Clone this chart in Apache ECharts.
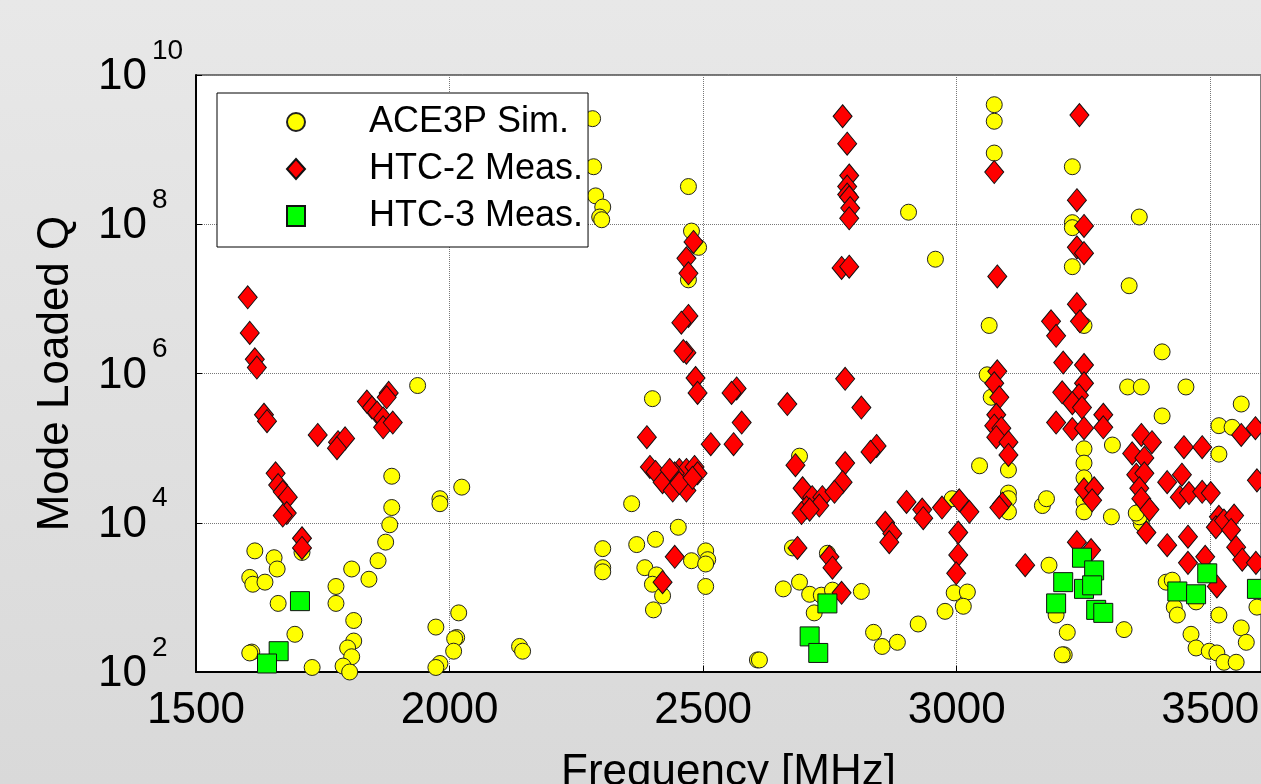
<!DOCTYPE html>
<html>
<head>
<meta charset="utf-8">
<title>Mode Loaded Q</title>
<script src="https://cdn.jsdelivr.net/npm/echarts@6/dist/echarts.min.js"></script>
<style>
  html, body { margin: 0; padding: 0; overflow: hidden; }
  body { width: 1261px; height: 784px; background: linear-gradient(#e8e8e8, #d9d9d9); }
  #chart { width: 1263px; height: 784px; }
</style>
</head>
<body>
<div id="chart"></div>
<script>
  var fontName = '"Liberation Sans", Arial, Helvetica, sans-serif'

  // [frequency MHz, loaded Q]
  var ace3pSim = [
    [2282, 2.6e9], [2284, 5.9e8], [2288, 2.4e8], [2302, 1.7e8], [2296, 1.25e8], [2300, 1.15e8],
    [1937, 6.9e5], [1886, 4.2e4], [1886, 1.6e4], [1882, 9.4e3], [1874, 5.5e3], [1859, 3.1e3],
    [1841, 1.75e3], [1807, 2.4e3], [1776, 1.4e3], [1776, 830], [1811, 490], [1811, 260],
    [1799, 210], [1807, 160], [1790, 120], [1803, 100], [1729, 115], [1695, 320], [1662, 830],
    [1616, 4.2e3], [1654, 3.4e3], [1660, 2.4e3], [1606, 1.85e3], [1612, 1.5e3], [1636, 1.6e3],
    [1610, 185], [1606, 180], [1981, 2.1e4], [1981, 1.8e4], [2024, 3.0e4], [2018, 620],
    [1973, 400], [2014, 290], [2010, 280], [2008, 190], [1981, 130], [1973, 115], [2138, 220],
    [2144, 190], [2302, 4.5e3], [2302, 2.5e3], [2302, 2.2e3], [1709, 4.0e3],
    [2471, 3.2e8], [2477, 8.1e7], [2491, 4.9e7], [2471, 1.8e7], [2905, 1.45e8], [2958, 3.4e7],
    [2400, 4.6e5], [2359, 1.8e4], [2451, 8.7e3], [2369, 5.1e3], [2406, 6.0e3], [2385, 2.5e3],
    [2408, 2.0e3], [2400, 1.5e3], [2420, 1.05e3], [2402, 680], [2477, 3.1e3], [2505, 4.2e3],
    [2509, 3.2e3], [2505, 2.8e3], [2505, 1.4e3], [2607, 145], [2611, 145], [2690, 7.8e4],
    [2676, 4.6e3], [2745, 3.9e3], [2658, 1.3e3], [2690, 1.6e3], [2710, 1.1e3], [2733, 1.07e3],
    [2719, 620], [2755, 1.25e3], [2812, 1.2e3], [2836, 340], [2853, 220], [2883, 250],
    [2924, 440], [2977, 650], [2995, 1.15e3], [3021, 1.18e3], [3013, 760], [2991, 2.1e4],
    [3045, 5.8e4],
    [3074, 4.0e9], [3074, 2.4e9], [3074, 9.0e8], [3228, 5.9e8], [3228, 1.05e8], [3228, 9e7],
    [3360, 1.25e8], [3228, 2.7e7], [3340, 1.5e7], [3064, 4.4e6], [3251, 4.4e6], [3405, 1.95e6],
    [3060, 9.6e5],
    [3068, 4.8e5], [3102, 5.1e4], [3102, 2.5e4], [3102, 2.1e4], [3102, 1.4e4], [3169, 1.7e4],
    [3177, 2.1e4], [3251, 9.8e4], [3251, 6.3e4], [3251, 4.0e4], [3251, 1.9e4], [3251, 1.4e4],
    [3307, 1.1e5], [3337, 6.6e5], [3364, 6.6e5], [3452, 6.6e5], [3405, 2.7e5], [3561, 3.9e5],
    [3517, 2.0e5], [3543, 1.9e5], [3517, 8.3e4], [3305, 1.2e4], [3360, 1.4e4], [3364, 9.8e3],
    [3360, 1.2e4], [3354, 1.35e4], [3182, 2.7e3], [3196, 580], [3218, 340], [3212, 170],
    [3208, 170], [3330, 370], [3413, 1.6e3], [3425, 1.7e3], [3429, 740], [3435, 580],
    [3462, 320], [3472, 210], [3498, 190], [3513, 180], [3527, 135], [3551, 135], [3517, 580],
    [3561, 390], [3571, 250], [3592, 740], [3472, 870]
  ]

  var htc2Meas = [
    [1602, 1.05e7], [1606, 3.5e6], [1616, 1.55e6], [1620, 1.2e6],
    [1634, 2.8e5], [1640, 2.3e5], [1740, 1.5e5], [1780, 1.2e5], [1794, 1.35e5], [1778, 1.0e5],
    [1837, 4.2e5], [1847, 3.5e5], [1857, 3.0e5], [1869, 2.5e5], [1869, 1.9e5], [1888, 2.2e5],
    [1880, 5.5e5], [1876, 4.8e5], [1657, 4.6e4], [1662, 3.2e4], [1671, 2.6e4], [1681, 2.2e4],
    [1679, 1.35e4], [1671, 1.25e4], [1709, 6.2e3], [1709, 4.6e3],
    [2481, 5.8e7], [2467, 3.5e7], [2471, 2.2e7], [2471, 5.9e6], [2457, 4.8e6], [2467, 1.9e6],
    [2461, 2.0e6], [2485, 8.7e5], [2775, 2.8e9], [2784, 1.2e9], [2788, 4.5e8], [2784, 3.2e8],
    [2784, 2.5e8], [2788, 2.3e8], [2790, 1.65e8], [2788, 1.2e8], [2773, 2.6e7], [2788, 2.7e7],
    [2780, 8.5e5],
    [2489, 5.5e5], [2566, 6.3e5], [2556, 5.5e5], [2576, 2.2e5], [2560, 1.13e5], [2515, 1.13e5],
    [2389, 1.4e5], [2395, 5.6e4], [2406, 4.8e4], [2420, 3.5e4], [2440, 2.7e4], [2453, 5.1e4],
    [2467, 5.1e4], [2483, 5.6e4], [2489, 4.6e4], [2444, 4.6e4], [2467, 2.7e4], [2453, 3.4e4],
    [2479, 4.0e4], [2434, 5.1e4], [2444, 3.5e3], [2420, 1.6e3], [2666, 3.9e5], [2812, 3.5e5],
    [2842, 1.07e5], [2830, 8.9e4], [2780, 6.3e4], [2682, 5.9e4], [2696, 2.9e4], [2715, 2.2e4],
    [2735, 2.2e4], [2775, 3.5e4], [2759, 2.6e4], [2729, 1.7e4], [2704, 1.6e4], [2694, 1.35e4],
    [2710, 1.5e4], [2686, 4.6e3], [2749, 3.5e3], [2755, 2.5e3], [2773, 1.15e3], [2859, 1.0e4],
    [2873, 7.2e3], [2867, 5.5e3], [2901, 1.9e4], [2932, 1.5e4], [2934, 1.15e4], [2971, 1.6e4],
    [3005, 2.0e4], [3025, 1.4e4], [3003, 7.4e3], [3003, 3.7e3], [2999, 2.1e3],
    [3242, 2.9e9], [3074, 5.0e8], [3237, 2.1e8], [3251, 9.5e7], [3237, 4.9e7], [3251, 4.1e7],
    [3080, 2.0e7], [3237, 8.5e6], [3186, 5.0e6], [3243, 5.0e6], [3196, 3.2e6], [3210, 1.4e6],
    [3251, 1.3e6], [3080, 1.07e6],
    [3074, 7.4e5], [3084, 4.8e5], [3078, 2.8e5], [3074, 2.0e5], [3088, 1.85e5], [3078, 1.4e5],
    [3102, 1.2e5], [3102, 8.1e4], [3090, 1.8e4], [3084, 1.6e4], [3208, 5.6e5], [3251, 7.4e5],
    [3241, 5.1e5], [3228, 4.0e5], [3247, 3.5e5], [3196, 2.2e5], [3228, 1.8e5], [3251, 1.85e5],
    [3289, 2.8e5], [3289, 1.9e5], [3251, 2.8e4], [3271, 2.9e4], [3267, 2.0e4], [3237, 5.5e3],
    [3265, 4.3e3], [3135, 2.7e3], [3364, 1.5e5], [3385, 1.2e5], [3346, 8.5e4], [3370, 7.4e4],
    [3354, 4.4e4], [3370, 4.6e4], [3360, 2.9e4], [3364, 2.1e4], [3380, 1.5e4], [3374, 7.4e3],
    [3415, 5.0e3], [3415, 3.5e4], [3444, 4.4e4], [3448, 1.03e5], [3484, 1.03e5], [3440, 2.2e4],
    [3458, 2.5e4], [3484, 2.6e4], [3501, 2.5e4], [3456, 6.5e3], [3456, 2.9e3], [3490, 3.5e3],
    [3513, 1.4e3], [3517, 1.2e4], [3511, 8.7e3], [3527, 1.07e4], [3547, 1.25e4], [3541, 8.0e3],
    [3561, 1.5e5], [3589, 1.85e5], [3551, 4.7e3], [3563, 3.2e3], [3590, 2.9e3], [3592, 3.7e4]
  ]

  var htc3Meas = [
    [1705, 890], [1663, 190], [1640, 130], [2745, 830], [2710, 300], [2727, 180],
    [3247, 3.4e3], [3271, 2.3e3], [3210, 1.6e3], [3251, 1.3e3], [3267, 1.45e3], [3196, 830],
    [3275, 680], [3289, 620], [3435, 1.2e3], [3472, 1.1e3], [3494, 2.1e3], [3592, 1.3e3]
  ]

  var freqRange = [1500, 3600]
  var freqStep = 500
  var qRange = [1e2, 1e10]

  var chart = echarts.init(document.getElementById('chart'))

  var option = {
    backgroundColor: 'transparent',
    animation: false,
    textStyle: { fontFamily: fontName, color: '#000' },
    grid: {
      left: 196,
      right: 2,
      top: 75,
      bottom: 112,
      show: true,
      backgroundColor: '#fff',
      borderColor: '#000',
      borderWidth: 1,
      outerBoundsMode: 'none'
    },
    legend: {
      orient: 'vertical',
      left: 217,
      top: 93,
      padding: [9, 5, 11, 69],
      itemGap: 7,
      itemWidth: 18,
      itemHeight: 20,
      backgroundColor: '#fff',
      borderColor: '#000',
      borderWidth: 1,
      selectedMode: false,
      textStyle: {
        fontFamily: fontName,
        fontSize: 36,
        color: '#000',
        lineHeight: 40,
        padding: [0, 0, 0, 59]
      },
      data: [
        { name: 'ACE3P Sim.', icon: 'circle' },
        { name: 'HTC-2 Meas.', icon: 'diamond' },
        { name: 'HTC-3 Meas.', icon: 'rect' }
      ]
    },
    xAxis: {
      type: 'value',
      min: freqRange[0],
      max: freqRange[1],
      interval: freqStep,
      name: 'Frequency [MHz]',
      nameLocation: 'middle',
      nameGap: 79,
      nameTextStyle: { fontFamily: fontName, fontSize: 44, color: '#000' },
      axisLine: { show: true, lineStyle: { color: '#000', width: 2 } },
      axisTick: { show: true, inside: true, length: 6, lineStyle: { color: '#000' } },
      axisLabel: {
        margin: 17,
        fontSize: 44,
        color: '#000',
        fontFamily: fontName,
        showMaxLabel: false,
        formatter: function (v) {
          return String(v)
        }
      },
      splitLine: { show: true, lineStyle: { color: '#777', type: 'dotted', width: 1 } }
    },
    yAxis: {
      type: 'log',
      logBase: 100, // 每两个数量级一条网格线
      min: qRange[0],
      max: qRange[1],
      name: 'Mode Loaded Q',
      nameLocation: 'middle',
      nameRotate: 90,
      nameGap: 118,
      nameTextStyle: { fontFamily: fontName, fontSize: 44, color: '#000' },
      axisLine: { show: true, lineStyle: { color: '#000', width: 2 } },
      axisTick: { show: true, inside: true, length: 6, lineStyle: { color: '#000' } },
      axisLabel: {
        margin: 98,
        align: 'left',
        fontFamily: fontName,
        formatter: function (v) {
          var e = Math.round(Math.log(v) / Math.LN10)
          return '{b|10}{e|' + e + '}'
        },
        // 两段等高, 用上下 padding 把指数抬高
        rich: {
          b: { fontSize: 44, lineHeight: 44, color: '#000', fontFamily: fontName, padding: [30, 0, 26, 0] },
          e: { fontSize: 28, lineHeight: 28, color: '#000', fontFamily: fontName, padding: [12, 0, 60, 5] }
        }
      },
      splitLine: { show: true, lineStyle: { color: '#777', type: 'dotted', width: 1 } }
    },
    series: [
      {
        name: 'ACE3P Sim.',
        type: 'scatter',
        data: ace3pSim,
        symbol: 'circle',
        symbolSize: 16,
        silent: true,
        itemStyle: { color: '#ffff00', borderColor: '#222', borderWidth: 1, opacity: 1 }
      },
      {
        name: 'HTC-2 Meas.',
        type: 'scatter',
        data: htc2Meas,
        symbol: 'diamond',
        symbolSize: [19, 23],
        silent: true,
        itemStyle: { color: '#ff0000', borderColor: '#111', borderWidth: 1, opacity: 1 }
      },
      {
        name: 'HTC-3 Meas.',
        type: 'scatter',
        data: htc3Meas,
        symbol: 'rect',
        symbolSize: 19,
        silent: true,
        itemStyle: { color: '#00ff00', borderColor: '#111', borderWidth: 1, opacity: 1 }
      }
    ]
  }

  chart.setOption(option)
</script>
</body>
</html>
